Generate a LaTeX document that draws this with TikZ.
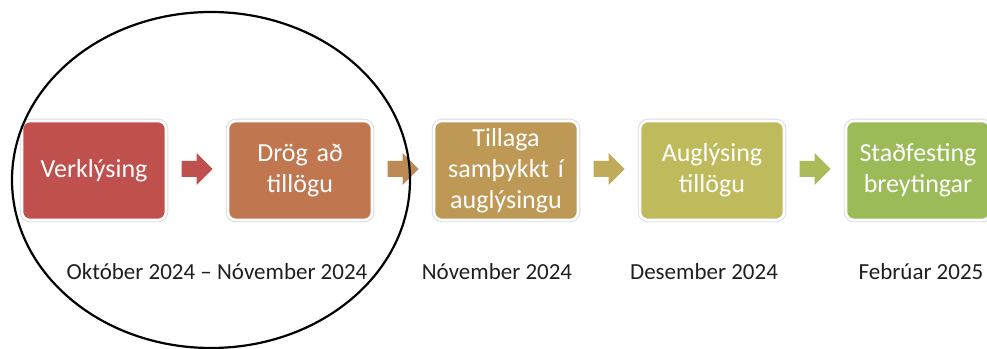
\documentclass[tikz,border=0pt]{standalone}
\usepackage{fontspec}
\setmainfont{Carlito}
\usetikzlibrary{calc,positioning}

\definecolor{skrefA}{HTML}{C0504D}
\definecolor{skrefB}{HTML}{C0764F}
\definecolor{skrefC}{HTML}{BE9855}
\definecolor{skrefD}{HTML}{BFBB5C}
\definecolor{skrefE}{HTML}{9BBB59}

\tikzset{
  skref/.style={rounded corners=8pt, minimum width=144pt, minimum height=99pt,
    text width=142pt, align=center, inner sep=0pt, outer sep=0pt, text=white,
    font=\fontsize{26}{31}\selectfont,
    preaction={draw=black!14, line width=4.5pt}, draw=white, line width=2.6pt},
  dags/.style={font=\fontsize{23}{26}\selectfont, text=black!88, inner sep=0pt},
  oer/.style={fill=#1}
}

\begin{document}
\begin{tikzpicture}[x=1pt,y=1pt]
    \useasboundingbox (0,0) rectangle (987,348);

		\node [skref, fill=skrefA] (verk) at (94,177.5) {Verklýsing};
		\node [skref, fill=skrefB, right=62pt of verk] (drog) {Drög að\\tillögu};
		\node [skref, fill=skrefC, right=62pt of drog] (tillaga) {Tillaga\\samþykkt í\\auglýsingu};
		\node [skref, fill=skrefD, right=62pt of tillaga] (augl) {Auglýsing\\tillögu};
		\node [skref, fill=skrefE, right=62pt of augl] (stadf) {Staðfesting\\breytingar};

		% ortvar milli skrefa
		\coordinate (o1) at ($ (verk.east)!.5!(drog.west) + (0,1.5) $);
		\coordinate (o2) at ($ (drog.east)!.5!(tillaga.west) + (0,1.5) $);
		\coordinate (o3) at ($ (tillaga.east)!.5!(augl.west) + (0,1.5) $);
		\coordinate (o4) at ($ (augl.east)!.5!(stadf.west) + (0,1.5) $);

		\fill [oer=skrefA] ($ (o1)+(-15.5,8) $) -- ++(15,0) -- ++(0,8) -- ++(16,-16)
		  -- ++(-16,-16) -- ++(0,8) -- ++(-15,0) -- cycle;
		\fill [oer=skrefA!20!skrefC] ($ (o2)+(-15.5,8) $) -- ++(15,0) -- ++(0,8) -- ++(16,-16)
		  -- ++(-16,-16) -- ++(0,8) -- ++(-15,0) -- cycle;
		\fill [oer=skrefC!45!skrefD] ($ (o3)+(-15.5,8) $) -- ++(15,0) -- ++(0,8) -- ++(16,-16)
		  -- ++(-16,-16) -- ++(0,8) -- ++(-15,0) -- cycle;
		\fill [oer=skrefD!45!skrefE] ($ (o4)+(-15.5,8) $) -- ++(15,0) -- ++(0,8) -- ++(16,-16)
		  -- ++(-16,-16) -- ++(0,8) -- ++(-15,0) -- cycle;

		% dagsetningar
		\node [dags] (d1) at (217,76) {Október 2024 – Nóvember 2024};
		\node [dags] (d2) at (497,76) {Nóvember 2024};
		\node [dags] (d3) at (704,76) {Desember 2024};
		\node [dags] (d4) at (921,76) {Febrúar 2025};

		\draw [line width=2.2pt] (211,168) ellipse [x radius=199, y radius=168];
\end{tikzpicture}
\end{document}
